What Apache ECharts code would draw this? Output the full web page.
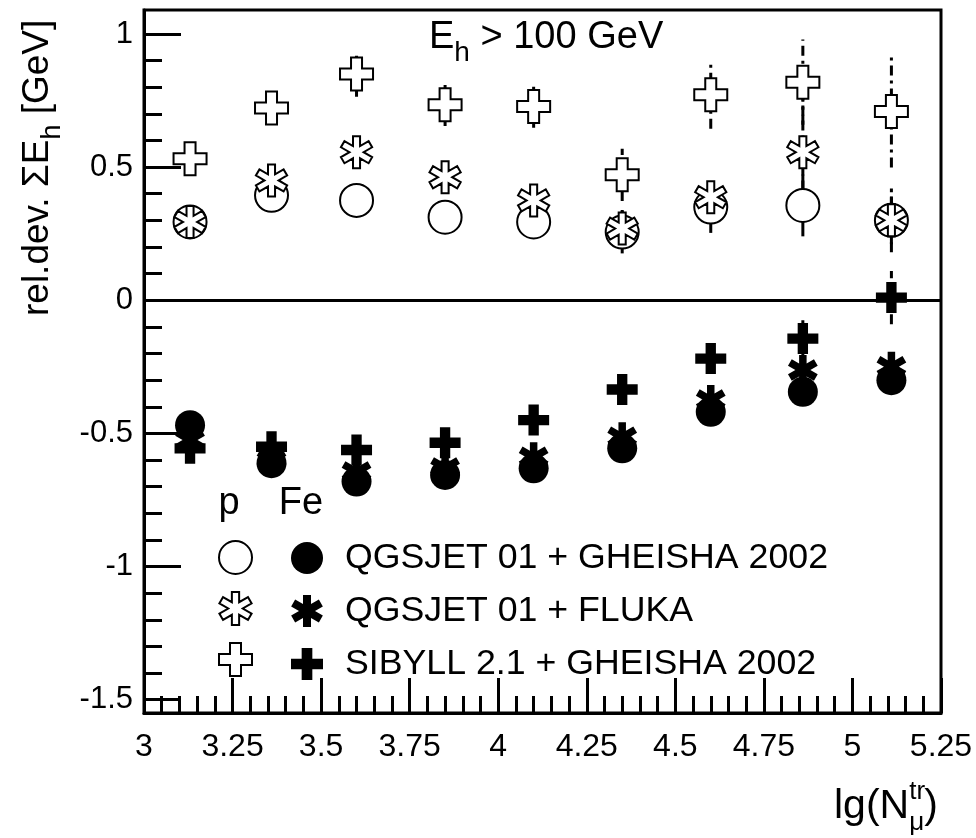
<!DOCTYPE html>
<html>
<head>
<meta charset="utf-8">
<script src="https://cdn.jsdelivr.net/npm/echarts@6/dist/echarts.min.js"></script>
<style>
  html, body { margin: 0; padding: 0; background: #fff; }
  #chart { width: 976px; height: 838px; }
</style>
</head>
<body>
<div id="chart"></div>
<script>
// lg of truncated muon number, bin means
const lgNmu = [3.13, 3.36, 3.6, 3.85, 4.1, 4.35, 4.6, 4.86, 5.11];

// proton primaries
const pQgsGheisha    = [0.294, 0.394, 0.375, 0.312, 0.294, 0.256, 0.350, 0.356, 0.300];
const pQgsGheishaErr = [0.03, 0.03, 0.03, 0.035, 0.04, 0.08, 0.097, 0.116, 0.09];
const pQgsFluka      = [0.294, 0.450, 0.556, 0.462, 0.375, 0.269, 0.387, 0.556, 0.300];
const pQgsFlukaErr   = [0.03, 0.035, 0.04, 0.04, 0.05, 0.07, 0.05, 0.2, 0.12];
const pSibyll        = [0.531, 0.722, 0.850, 0.734, 0.728, 0.471, 0.772, 0.819, 0.709];
const pSibyllErr     = [0.03, 0.04, 0.086, 0.08, 0.08, 0.098, 0.128, 0.16, 0.21];

// iron primaries
const feQgsGheisha    = [-0.469, -0.612, -0.681, -0.656, -0.631, -0.556, -0.419, -0.344, -0.300];
const feQgsGheishaErr = [0.02, 0.02, 0.02, 0.02, 0.02, 0.03, 0.04, 0.05, 0.05];
const feQgsFluka      = [-0.525, -0.600, -0.645, -0.630, -0.590, -0.514, -0.375, -0.262, -0.250];
const feQgsFlukaErr   = [0.02, 0.02, 0.02, 0.02, 0.02, 0.03, 0.04, 0.05, 0.05];
const feSibyll        = [-0.556, -0.550, -0.5625, -0.535, -0.450, -0.335, -0.219, -0.144, 0.010];
const feSibyllErr     = [0.02, 0.02, 0.02, 0.03, 0.03, 0.04, 0.05, 0.085, 0.1];

// model labels
const models = ['QGSJET 01 + GHEISHA 2002', 'QGSJET 01 + FLUKA', 'SIBYLL 2.1 + GHEISHA 2002'];

// axis ticks
const yMajorTicks = [-1.5, -1, -0.5, 0, 0.5, 1];
const yMinorTicks = [];
for (let v = -15; v <= 10; v++) { if (v % 5 !== 0) yMinorTicks.push(v / 10); }

const FONT = '"Liberation Sans", Arial, Helvetica, sans-serif';

// marker shapes
const crossPath = 'path://M1,0H2V1H3V2H2V3H1V2H0V1H1Z';
function asteriskPath(w) {
  const pts = [];
  for (let k = 0; k < 6; k++) {
    const th = (90 - 60 * k) * Math.PI / 180;
    const ux = Math.cos(th), uy = Math.sin(th), nx = -uy, ny = ux;
    const tb = th + Math.PI / 6;
    pts.push([2 * w * Math.cos(tb), 2 * w * Math.sin(tb)]);
    pts.push([ux + w * nx, uy + w * ny]);
    pts.push([ux - w * nx, uy - w * ny]);
  }
  return 'path://' + pts.map((p, i) => (i ? 'L' : 'M') + p[0].toFixed(4) + ',' + (-p[1]).toFixed(4)).join('') + 'Z';
}
const openAsterisk = asteriskPath(0.22);
const fullAsterisk = asteriskPath(0.25);

const openStyle = { color: '#fff', borderColor: '#000', borderWidth: 2, opacity: 1 };
const fullStyle = { color: '#000', borderColor: '#000', borderWidth: 0, opacity: 1 };

function pairs(ys) { return lgNmu.map((x, i) => [x, ys[i]]); }

function markers(name, ys, symbol, size, style, z) {
  return {
    type: 'scatter', name, data: pairs(ys), symbol, symbolSize: size,
    symbolKeepAspect: true, itemStyle: style, z, silent: true,
    emphasis: { disabled: true }
  };
}

function errorBars(name, ys, errs, dash, z) {
  return {
    type: 'custom', name, z, silent: true,
    data: lgNmu.map((x, i) => [x, ys[i], errs[i]]),
    encode: { x: 0, y: 1 },
    renderItem(params, api) {
      const x = api.value(0), y = api.value(1), e = api.value(2);
      const a = api.coord([x, y - e]), b = api.coord([x, y + e]);
      return {
        type: 'line',
        shape: { x1: a[0], y1: a[1], x2: b[0], y2: b[1] },
        style: { stroke: '#000', lineWidth: 3, lineDash: dash }
      };
    }
  };
}

// text with sub/superscripts laid out piece by piece
const measureCtx = document.createElement('canvas').getContext('2d');
function textRun(pieces) {
  const children = [];
  let cx = 0;
  pieces.forEach(p => {
    const f = p.size + 'px ' + FONT;
    measureCtx.font = f;
    const w = measureCtx.measureText(p.text).width;
    children.push({
      type: 'text', x: cx, y: (p.dy || 0) - 0.32 * p.size,
      style: { text: p.text, font: f, fill: '#000', align: 'left', verticalAlign: 'middle' }
    });
    if (!p.stack) cx += w;
  });
  return children;
}

const pNames = models.map(m => 'p|' + m);
const feNames = models.map(m => 'Fe|' + m);

const chart = echarts.init(document.getElementById('chart'), null, { renderer: 'canvas' });

const tickLine = { color: '#000', width: 3 };

const option = {
  animation: false,
  backgroundColor: '#fff',
  grid: {
    left: 144, right: 35, top: 10, bottom: 125,
    show: true, borderColor: '#000', borderWidth: 3,
    outerBoundsMode: 'none'
  },
  xAxis: {
    type: 'value', min: 3, max: 5.25, interval: 0.25,
    axisLine: { onZero: false, lineStyle: { color: '#000', width: 3 } },
    axisTick: { inside: true, length: 35, lineStyle: tickLine },
    minorTick: { show: true, splitNumber: 5, length: 17, lineStyle: tickLine },
    splitLine: { show: false },
    axisLabel: { fontSize: 32, color: '#000', fontFamily: FONT, margin: 18 }
  },
  yAxis: [
    {
      type: 'value', min: -1.55, max: 1.09,
      axisLine: { onZero: false, lineStyle: { color: '#000', width: 3 } },
      axisTick: { inside: true, length: 37, customValues: yMajorTicks, lineStyle: tickLine },
      splitLine: { show: false },
      axisLabel: { fontSize: 31, color: '#000', fontFamily: FONT, margin: 11, customValues: yMajorTicks }
    },
    {
      type: 'value', min: -1.55, max: 1.09, position: 'left',
      axisLine: { show: false, onZero: false },
      axisTick: { inside: true, length: 18, customValues: yMinorTicks, lineStyle: tickLine },
      splitLine: { show: false },
      axisLabel: { show: false }
    }
  ],
  legend: [
    {
      orient: 'vertical', left: 213, top: 535, itemWidth: 33, itemHeight: 33, itemGap: 16,
      data: pNames, formatter: () => '', selectedMode: false,
      textStyle: { fontSize: 35, lineHeight: 33, fontFamily: FONT }
    },
    {
      orient: 'vertical', left: 286, top: 535, itemWidth: 32, itemHeight: 32, itemGap: 17,
      data: feNames, formatter: n => n.split('|')[1], selectedMode: false,
      textStyle: { fontSize: 35.7, lineHeight: 32, color: '#000', fontFamily: FONT, padding: [0, 0, 0, 17] }
    }
  ],
  graphic: [
    // panel title
    { type: 'group', x: 429, y: 50, children: textRun([
      { text: 'E', size: 38 }, { text: 'h', size: 28, dy: 12 }, { text: ' > 100 GeV', size: 38 }
    ]) },
    // y axis title, reads upward
    { type: 'group', x: 50, y: 316, rotation: Math.PI / 2, children: textRun([
      { text: 'rel.dev. ', size: 37 }, { text: '\u03A3E', size: 37 }, { text: 'h', size: 27, dy: 11 }, { text: ' [GeV]', size: 37 }
    ]) },
    // x axis title
    { type: 'group', x: 834, y: 820, children: textRun([
      { text: 'lg(N', size: 41 }, { text: 'tr', size: 26, dy: -20, stack: true }, { text: '\u03BC', size: 26, dy: 11 }, { text: ')', size: 41 }
    ]) },
    // legend column headers
    { type: 'text', x: 229, y: 523, style: { text: 'p', font: '38px ' + FONT, fill: '#000', align: 'center', verticalAlign: 'bottom' } },
    { type: 'text', x: 301, y: 523, style: { text: 'Fe', font: '38px ' + FONT, fill: '#000', align: 'center', verticalAlign: 'bottom' } }
  ],
  series: [
    errorBars('err p qgs-gh', pQgsGheisha, pQgsGheishaErr, null, 2),
    errorBars('err p qgs-fl', pQgsFluka, pQgsFlukaErr, [10, 5], 2),
    errorBars('err p sib', pSibyll, pSibyllErr, [10, 5, 3, 5], 2),
    errorBars('err fe qgs-gh', feQgsGheisha, feQgsGheishaErr, null, 2),
    errorBars('err fe qgs-fl', feQgsFluka, feQgsFlukaErr, [10, 5], 2),
    errorBars('err fe sib', feSibyll, feSibyllErr, [10, 5, 3, 5], 2),
    markers(pNames[0], pQgsGheisha, 'circle', 33, openStyle, 3),
    markers(pNames[1], pQgsFluka, openAsterisk, 32, openStyle, 4),
    markers(pNames[2], pSibyll, crossPath, 33, openStyle, 5),
    markers(feNames[0], feQgsGheisha, 'circle', 30, fullStyle, 3),
    markers(feNames[1], feQgsFluka, fullAsterisk, 30, fullStyle, 4),
    Object.assign(markers(feNames[2], feSibyll, crossPath, 31, fullStyle, 5), {
      markLine: {
        silent: true, symbol: 'none', label: { show: false },
        lineStyle: { color: '#000', width: 3, type: 'solid', opacity: 1 },
        data: [{ yAxis: 0 }]
      }
    })
  ]
};

chart.setOption(option);
</script>
</body>
</html>
